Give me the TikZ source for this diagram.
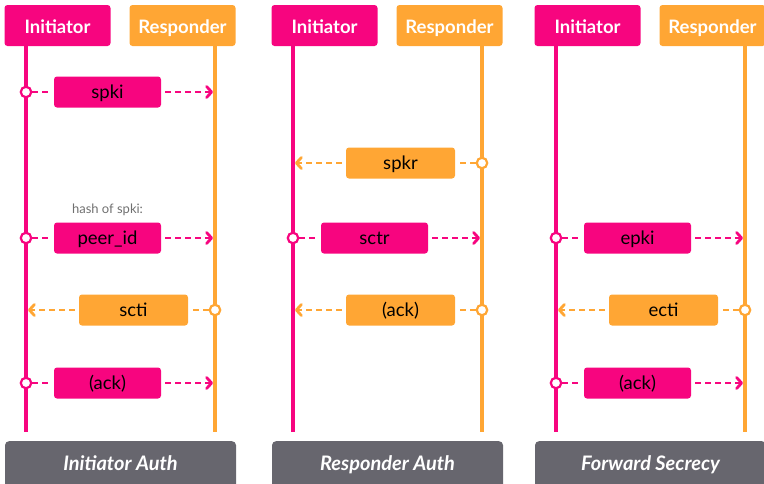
\documentclass[tikz,border=0pt]{standalone}
\usepackage{fontspec}
\setmainfont{Lato}
\usetikzlibrary{arrows.meta}
\definecolor{initc}{HTML}{F7057F}
\definecolor{respc}{HTML}{FFA634}
\definecolor{panelc}{HTML}{67666E}
\definecolor{notec}{HTML}{707070}
\tikzset{
  head/.style={rounded corners=3pt, minimum height=41pt, minimum width=106pt,
    inner sep=0pt, text height=15pt, text depth=0pt, text=white,
    font=\bfseries\fontsize{18.5}{20}\selectfont},
  msg/.style={rounded corners=3pt, minimum height=31pt, inner sep=0pt,
    text height=13pt, text depth=0pt, text=black, font=\fontsize{18.5}{20}\selectfont},
  imsg/.style={msg, fill=initc, minimum width=107pt},
  rmsg/.style={msg, fill=respc, minimum width=109pt},
  life/.style={line width=3.8pt},
  isrc/.style={circle, draw=initc, fill=white, line width=2.2pt, minimum size=10.5pt, inner sep=0pt},
  rsrc/.style={circle, draw=respc, fill=white, line width=2.2pt, minimum size=10.5pt, inner sep=0pt},
  flow/.style={line width=2.8pt, dash pattern=on 6pt off 4pt,
    -{Straight Barb[length=5pt,width=11pt,line cap=round,line join=round]}},
  lead/.style={line width=2.8pt, dash pattern=on 6pt off 4pt, shorten >=3pt},
  foot/.style={fill=panelc, rounded corners=4pt, minimum width=231pt, minimum height=60pt,
    inner sep=0pt},
  foottext/.style={text=white, inner sep=0pt, text height=14pt, text depth=0pt,
    font=\bfseries\itshape\fontsize{20}{22}\selectfont},
  note/.style={text=notec, font=\fontsize{13}{15}\selectfont},
}
\begin{document}
\begin{tikzpicture}[x=1pt,y=-1pt]
\useasboundingbox (0,0) rectangle (764,483);
\clip (0,0) rectangle (764,483);

% ---------------- Initiator Auth ----------------
\node[head, fill=initc] (aI) at (57.5,25.5) {Initiator};
\node[head, fill=respc] (aR) at (182.5,25.5) {Responder};
\coordinate (aIe) at (26,432);
\coordinate (aRe) at (215,432);
\draw[life, initc] (aIe |- aI.south) -- (aIe);
\draw[life, respc] (aRe |- aR.south) -- (aRe);
\node[foot, anchor=north] (aF) at (120.5,441) {};
\node[foottext] at (120.5,463) {Initiator Auth};

\node[imsg] (a1) at (107.5,92) {spki};
\node[isrc] (a1s) at (26,92) {};
\coordinate (a1t) at (213,92);
\draw[lead, initc] (a1s) -- (a1.west);
\draw[flow, initc, shorten <=4pt] (a1.east) -- (a1t);

\node[note] (a2n) at (107.5,210) {hash of spki:};
\node[imsg] (a2) at (107.5,238) {peer\_id};
\node[isrc] (a2s) at (26,238) {};
\coordinate (a2t) at (213,238);
\draw[lead, initc] (a2s) -- (a2.west);
\draw[flow, initc, shorten <=4pt] (a2.east) -- (a2t);

\node[rmsg] (a3) at (133.5,310) {scti};
\node[rsrc] (a3s) at (215,310) {};
\coordinate (a3t) at (28,310);
\draw[lead, respc] (a3s) -- (a3.east);
\draw[flow, respc, shorten <=4pt] (a3.west) -- (a3t);

\node[imsg] (a4) at (107.5,383) {(ack)};
\node[isrc] (a4s) at (26,383) {};
\coordinate (a4t) at (213,383);
\draw[lead, initc] (a4s) -- (a4.west);
\draw[flow, initc, shorten <=4pt] (a4.east) -- (a4t);

% ---------------- Responder Auth ----------------
\begin{scope}[xshift=267pt]
\node[head, fill=initc] (bI) at (57.5,25.5) {Initiator};
\node[head, fill=respc] (bR) at (182.5,25.5) {Responder};
\coordinate (bIe) at (26,432);
\coordinate (bRe) at (215,432);
\draw[life, initc] (bIe |- bI.south) -- (bIe);
\draw[life, respc] (bRe |- bR.south) -- (bRe);
\node[foot, anchor=north] (bF) at (120.5,441) {};
\node[foottext] at (120.5,463) {Responder Auth};

\node[rmsg] (b1) at (133.5,163) {spkr};
\node[rsrc] (b1s) at (215,163) {};
\coordinate (b1t) at (28,163);
\draw[lead, respc] (b1s) -- (b1.east);
\draw[flow, respc, shorten <=4pt] (b1.west) -- (b1t);

\node[imsg] (b2) at (107.5,238) {sctr};
\node[isrc] (b2s) at (26,238) {};
\coordinate (b2t) at (213,238);
\draw[lead, initc] (b2s) -- (b2.west);
\draw[flow, initc, shorten <=4pt] (b2.east) -- (b2t);

\node[rmsg] (b3) at (133.5,310) {(ack)};
\node[rsrc] (b3s) at (215,310) {};
\coordinate (b3t) at (28,310);
\draw[lead, respc] (b3s) -- (b3.east);
\draw[flow, respc, shorten <=4pt] (b3.west) -- (b3t);
\end{scope}

% ---------------- Forward Secrecy ----------------
\begin{scope}[xshift=530pt]
\node[head, fill=initc] (cI) at (57.5,25.5) {Initiator};
\node[head, fill=respc] (cR) at (182.5,25.5) {Responder};
\coordinate (cIe) at (26,432);
\coordinate (cRe) at (215,432);
\draw[life, initc] (cIe |- cI.south) -- (cIe);
\draw[life, respc] (cRe |- cR.south) -- (cRe);
\node[foot, anchor=north] (cF) at (120.5,441) {};
\node[foottext] at (120.5,463) {Forward Secrecy};

\node[imsg] (c1) at (107.5,238) {epki};
\node[isrc] (c1s) at (26,238) {};
\coordinate (c1t) at (213,238);
\draw[lead, initc] (c1s) -- (c1.west);
\draw[flow, initc, shorten <=4pt] (c1.east) -- (c1t);

\node[rmsg] (c2) at (133.5,310) {ecti};
\node[rsrc] (c2s) at (215,310) {};
\coordinate (c2t) at (28,310);
\draw[lead, respc] (c2s) -- (c2.east);
\draw[flow, respc, shorten <=4pt] (c2.west) -- (c2t);

\node[imsg] (c3) at (107.5,383) {(ack)};
\node[isrc] (c3s) at (26,383) {};
\coordinate (c3t) at (213,383);
\draw[lead, initc] (c3s) -- (c3.west);
\draw[flow, initc, shorten <=4pt] (c3.east) -- (c3t);
\end{scope}
\end{tikzpicture}
\end{document}
